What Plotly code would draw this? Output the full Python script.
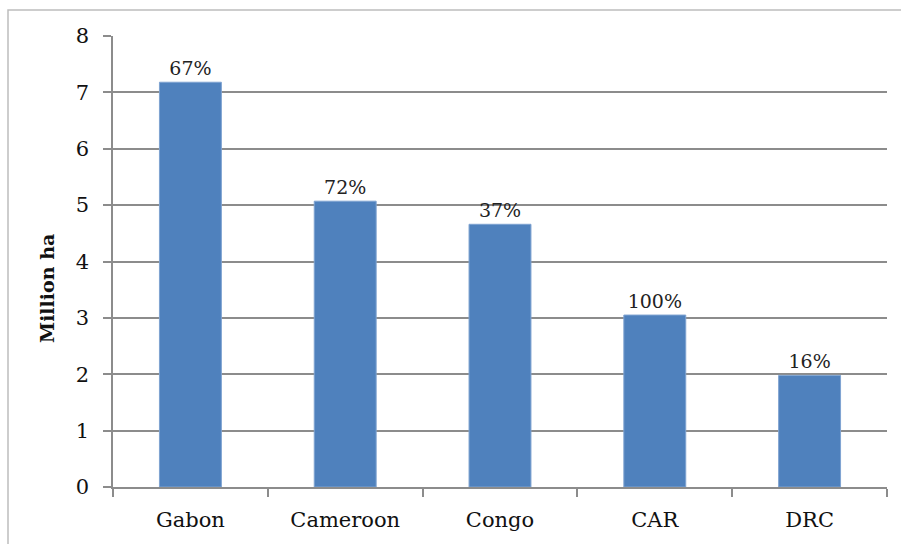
import plotly.graph_objects as go

# Forest area per country (million ha) and share labelled on top of each bar
countries = ["Gabon", "Cameroon", "Congo", "CAR", "DRC"]
area_mha = [7.18, 5.07, 4.66, 3.05, 1.98]
share_labels = ["67%", "72%", "37%", "100%", "16%"]
y_ticks = [0, 1, 2, 3, 4, 5, 6, 7, 8]

SERIF = "DejaVu Serif"
GRID = "#8c8c8c"

fig = go.Figure(
    go.Bar(
        x=countries,
        y=area_mha,
        text=share_labels,
        textposition="outside",
        textfont=dict(family=SERIF, size=19, color="#222222"),
        cliponaxis=False,
        marker=dict(color="#4F81BD", line=dict(color="#7FA3D1", width=1)),
        width=0.4,
        hoverinfo="skip",
    )
)

# Margins place the plot area at x 113..887 and y 36..489
L, R, T, B = 113, 14, 36, 55
W, H = 901, 544
pw, ph = W - L - R, H - T - B

def px_x(x):
    return (x - L) / pw

def px_y(y):
    return (H - B - y) / ph

fig.update_layout(
    width=W,
    height=H,
    margin=dict(l=L, r=R, t=T, b=B, pad=0),
    paper_bgcolor="white",
    plot_bgcolor="white",
    showlegend=False,
    font=dict(family=SERIF, color="#111111"),
    xaxis=dict(
        type="category",
        tickson="boundaries",
        ticks="outside",
        ticklen=8,
        tickwidth=1.5,
        tickcolor=GRID,
        showline=True,
        linecolor=GRID,
        linewidth=1.5,
        showgrid=False,
        tickfont=dict(family=SERIF, size=21, color="#111111"),
        ticklabelstandoff=13,
        fixedrange=True,
    ),
    yaxis=dict(
        range=[0, 8],
        tickvals=y_ticks,
        ticks="outside",
        ticklen=8,
        tickwidth=1.5,
        tickcolor=GRID,
        showline=True,
        linecolor=GRID,
        linewidth=1.5,
        showgrid=True,
        gridcolor=GRID,
        gridwidth=1.5,
        zeroline=False,
        tickfont=dict(family=SERIF, size=21, color="#111111"),
        ticklabelstandoff=10,
        fixedrange=True,
    ),
    annotations=[
        dict(
            text="<b>Million ha</b>",
            xref="paper",
            yref="paper",
            x=px_x(47),
            y=px_y(290),
            showarrow=False,
            textangle=-90,
            font=dict(family=SERIF, size=19, color="#111111"),
            xanchor="center",
            yanchor="middle",
        )
    ],
    shapes=[
        # chart frame: left and top edges
        dict(
            type="path",
            xref="paper",
            yref="paper",
            path=f"M {px_x(8)},{px_y(560)} L {px_x(8)},{px_y(10)} L {px_x(910)},{px_y(10)}",
            line=dict(color="#bdbdbd", width=1.5),
            layer="above",
        )
    ],
)

fig.write_html("out.html")
